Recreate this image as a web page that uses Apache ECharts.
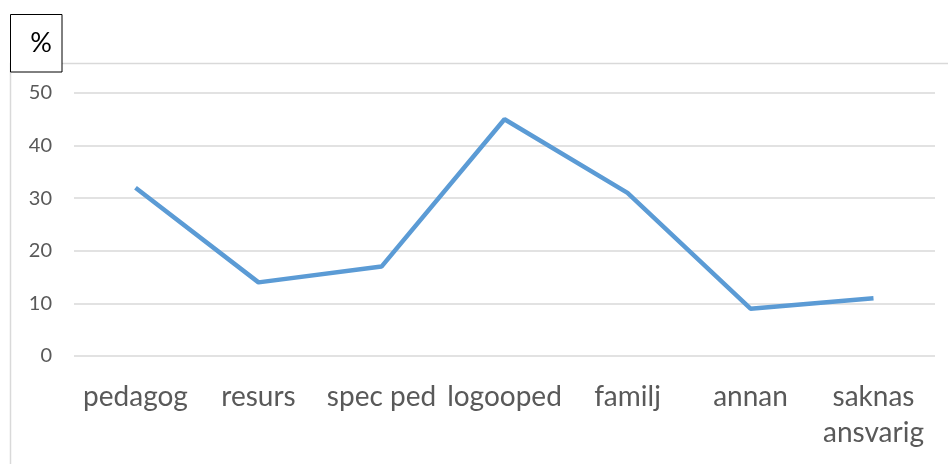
<!DOCTYPE html>
<html><head><meta charset="utf-8">
<script src="https://cdn.jsdelivr.net/npm/echarts@6/dist/echarts.min.js"></script>
<style>html,body{margin:0;padding:0;background:#fff}#c{width:948px;height:464px}</style>
</head><body><div id="c"></div>
<script>
const categories = ['pedagog', 'resurs', 'spec ped', 'logooped', 'familj', 'annan', 'saknas\nansvarig'];
const values = [32, 14, 17, 45, 31, 9, 11];
const yTicks = [0, 10, 20, 30, 40, 50];

const chart = echarts.init(document.getElementById('c'), null, {renderer: 'canvas'});
chart.setOption({
  animation: false,
  backgroundColor: '#fff',
  grid: {left: 74, right: 13, top: 93, bottom: 108, containLabel: false},
  xAxis: {
    type: 'category', data: categories, boundaryGap: true,
    axisLine: {show: false}, axisTick: {show: false},
    axisLabel: {interval: 0, color: '#595959', fontSize: 28, fontFamily: 'Lato, "Open Sans", sans-serif', margin: 23, lineHeight: 36}
  },
  yAxis: {
    type: 'value', min: yTicks[0], max: yTicks[yTicks.length-1], interval: 10,
    axisLine: {show: false}, axisTick: {show: false},
    axisLabel: {color: '#595959', fontSize: 20, fontFamily: 'Lato, "Open Sans", sans-serif', margin: 22},
    splitLine: {lineStyle: {color: '#d9d9d9', width: 1.5}}
  },
  series: [{
    type: 'line', data: values, showSymbol: false, symbol: 'none',
    lineStyle: {color: '#5B9BD5', width: 4.5}, itemStyle: {color: '#5B9BD5'}
  }],
  graphic: [
    {type: 'rect', shape: {x: 10.5, y: 63.5, width: 1000, height: 500}, style: {fill: null, stroke: '#d9d9d9', lineWidth: 1.5}, z: -1},
    {type: 'rect', shape: {x: 10.5, y: 14.5, width: 51.5, height: 57.5}, style: {fill: '#fff', stroke: '#000', lineWidth: 1}, z: 10},
    {type: 'text', x: 41, y: 43, style: {text: '%', fontSize: 27, fontFamily: 'Lato, "Open Sans", sans-serif', fill: '#000', align: 'center', verticalAlign: 'middle'}, z: 11}
  ]
});
</script></body></html>
